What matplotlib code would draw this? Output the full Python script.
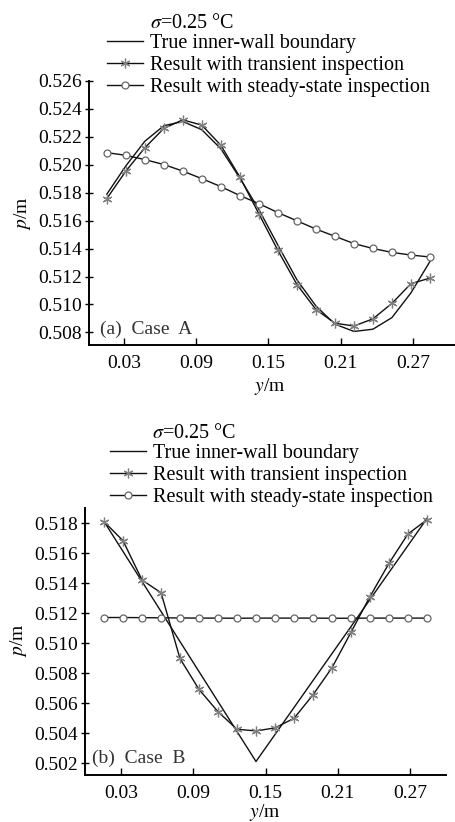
import numpy as np
import matplotlib
matplotlib.use('Agg')
from matplotlib import pyplot as plt

plt.rcParams['font.family'] = ['Liberation Serif', 'DejaVu Serif']
plt.rcParams['mathtext.fontset'] = 'stix'

# sample positions along y (m), 18 points
y_pos = [0.0158, 0.0316, 0.0474, 0.0632, 0.0789, 0.0947, 0.1105, 0.1263, 0.1421,
         0.1579, 0.1737, 0.1895, 0.2053, 0.2211, 0.2368, 0.2526, 0.2684, 0.2842]

# case A
a_true = [0.51790, 0.51992, 0.52169, 0.52280, 0.52310, 0.52251, 0.52115, 0.51905, 0.51680,
          0.51425, 0.51177, 0.50989, 0.50859, 0.50807, 0.50823, 0.50906, 0.51083, 0.51308]
a_transient = [0.51758, 0.51955, 0.52122, 0.52261, 0.52322, 0.52284, 0.52140, 0.51912, 0.51649,
               0.51387, 0.51143, 0.50964, 0.50866, 0.50846, 0.50897, 0.51008, 0.51149, 0.51189]
a_steady = [0.52087, 0.52068, 0.52037, 0.52002, 0.51955, 0.51901, 0.51844, 0.51780, 0.51722,
            0.51658, 0.51599, 0.51540, 0.51488, 0.51436, 0.51401, 0.51373, 0.51354, 0.51340]

# case B
b_true = [0.5181, 0.5161, 0.5141, 0.5121, 0.5101, 0.5081, 0.5061, 0.5041, 0.5021,
          0.5039, 0.5057, 0.5075, 0.5093, 0.5111, 0.5129, 0.5147, 0.5165, 0.5183]
b_transient = [0.51809, 0.51682, 0.51420, 0.51335, 0.50897, 0.50691, 0.50542, 0.50425, 0.50414,
               0.50434, 0.50498, 0.50655, 0.50836, 0.51072, 0.51309, 0.51531, 0.51727, 0.51822]
b_steady = [0.51170, 0.51170, 0.51169, 0.51168, 0.51167, 0.51166, 0.51166, 0.51165, 0.51166,
            0.51166, 0.51166, 0.51166, 0.51165, 0.51165, 0.51166, 0.51166, 0.51166, 0.51166]

x_ticks = [0.03, 0.09, 0.15, 0.21, 0.27]
a_yticks = [0.508, 0.510, 0.512, 0.514, 0.516, 0.518, 0.520, 0.522, 0.524, 0.526]
b_yticks = [0.502, 0.504, 0.506, 0.508, 0.510, 0.512, 0.514, 0.516, 0.518]

labels = ['True inner-wall boundary', 'Result with transient inspection',
          'Result with steady-state inspection']
sigma_text = r'$\sigma$=0.25 °C'

fs = 14
lfs = 14.5
fig = plt.figure(figsize=(4.55, 8.22), dpi=100)
ax_a = fig.add_axes([89/455, 1-345/822, 366/455, 264/822])
ax_b = fig.add_axes([85/455, 1-775/822, 361/455, 267/822])


def draw(ax, true, trans, steady):
    l1, = ax.plot(y_pos, true, color='#111111', lw=1.0)
    l2, = ax.plot(y_pos, trans, color='#111111', lw=1.0, marker=(6, 2, 0),
                  ms=7, mec='#808080', mew=0.9)
    l3, = ax.plot(y_pos, steady, color='#111111', lw=1.0, marker='o', ms=5,
                  mfc='white', mec='#666666', mew=0.9)
    for s in ['top', 'right']:
        ax.spines[s].set_visible(False)
    for s in ['left', 'bottom']:
        ax.spines[s].set_linewidth(1.4)
    ax.tick_params(axis='y', direction='inout', length=6, width=1.0, labelsize=fs, pad=2)
    ax.tick_params(axis='x', direction='in', length=5, width=1.0, labelsize=fs, pad=7)
    ax.set_xticks(x_ticks)
    ax.set_xticklabels(['%.2f' % v for v in x_ticks])
    return [l1, l2, l3]


h_a = draw(ax_a, a_true, a_transient, a_steady)
ax_a.set_xlim(0.001, 0.305)
ax_a.set_ylim(0.5071, 0.526)
ax_a.set_yticks(a_yticks)
ax_a.set_yticklabels(['%.3f' % v for v in a_yticks])
ax_a.set_xlabel(r'$y$/m', fontsize=fs, va='center')
ax_a.set_ylabel(r'$p$/m', fontsize=fs, va='center')
ax_a.xaxis.set_label_coords(0.4945, -0.157)
ax_a.yaxis.set_label_coords(-0.183, 0.5)
ax_a.text(0.03, 0.061, '(a)  Case  A', transform=ax_a.transAxes, fontsize=fs,
          color='#333333', va='center', ha='left')

h_b = draw(ax_b, b_true, b_transient, b_steady)
ax_b.set_xlim(0.0, 0.30)
ax_b.set_ylim(0.5012, 0.519)
ax_b.set_yticks(b_yticks)
ax_b.set_yticklabels(['%.3f' % v for v in b_yticks])
ax_b.set_xlabel(r'$y$/m', fontsize=fs, va='center')
ax_b.set_ylabel(r'$p$/m', fontsize=fs, va='center')
ax_b.xaxis.set_label_coords(0.4986, -0.140)
ax_b.yaxis.set_label_coords(-0.183, 0.506)
ax_b.text(0.019, 0.064, '(b)  Case  B', transform=ax_b.transAxes, fontsize=fs,
          color='#333333', va='center', ha='left')

# legends above each panel
fig.text(150/455, 1-23/822, sigma_text, fontsize=lfs, va='center', ha='left')
fig.legend(h_a, labels, loc='upper left', bbox_to_anchor=(107/455, 1-34/822),
           frameon=False, fontsize=lfs, handlelength=1.8, handletextpad=0.35,
           labelspacing=0.14, borderpad=0, borderaxespad=0, numpoints=1)
fig.text(152/455, 1-433/822, sigma_text, fontsize=lfs, va='center', ha='left')
fig.legend(h_b, labels, loc='upper left', bbox_to_anchor=(110/455, 1-444/822),
           frameon=False, fontsize=lfs, handlelength=1.8, handletextpad=0.35,
           labelspacing=0.14, borderpad=0, borderaxespad=0, numpoints=1)

fig.savefig('out.png', dpi=100)
